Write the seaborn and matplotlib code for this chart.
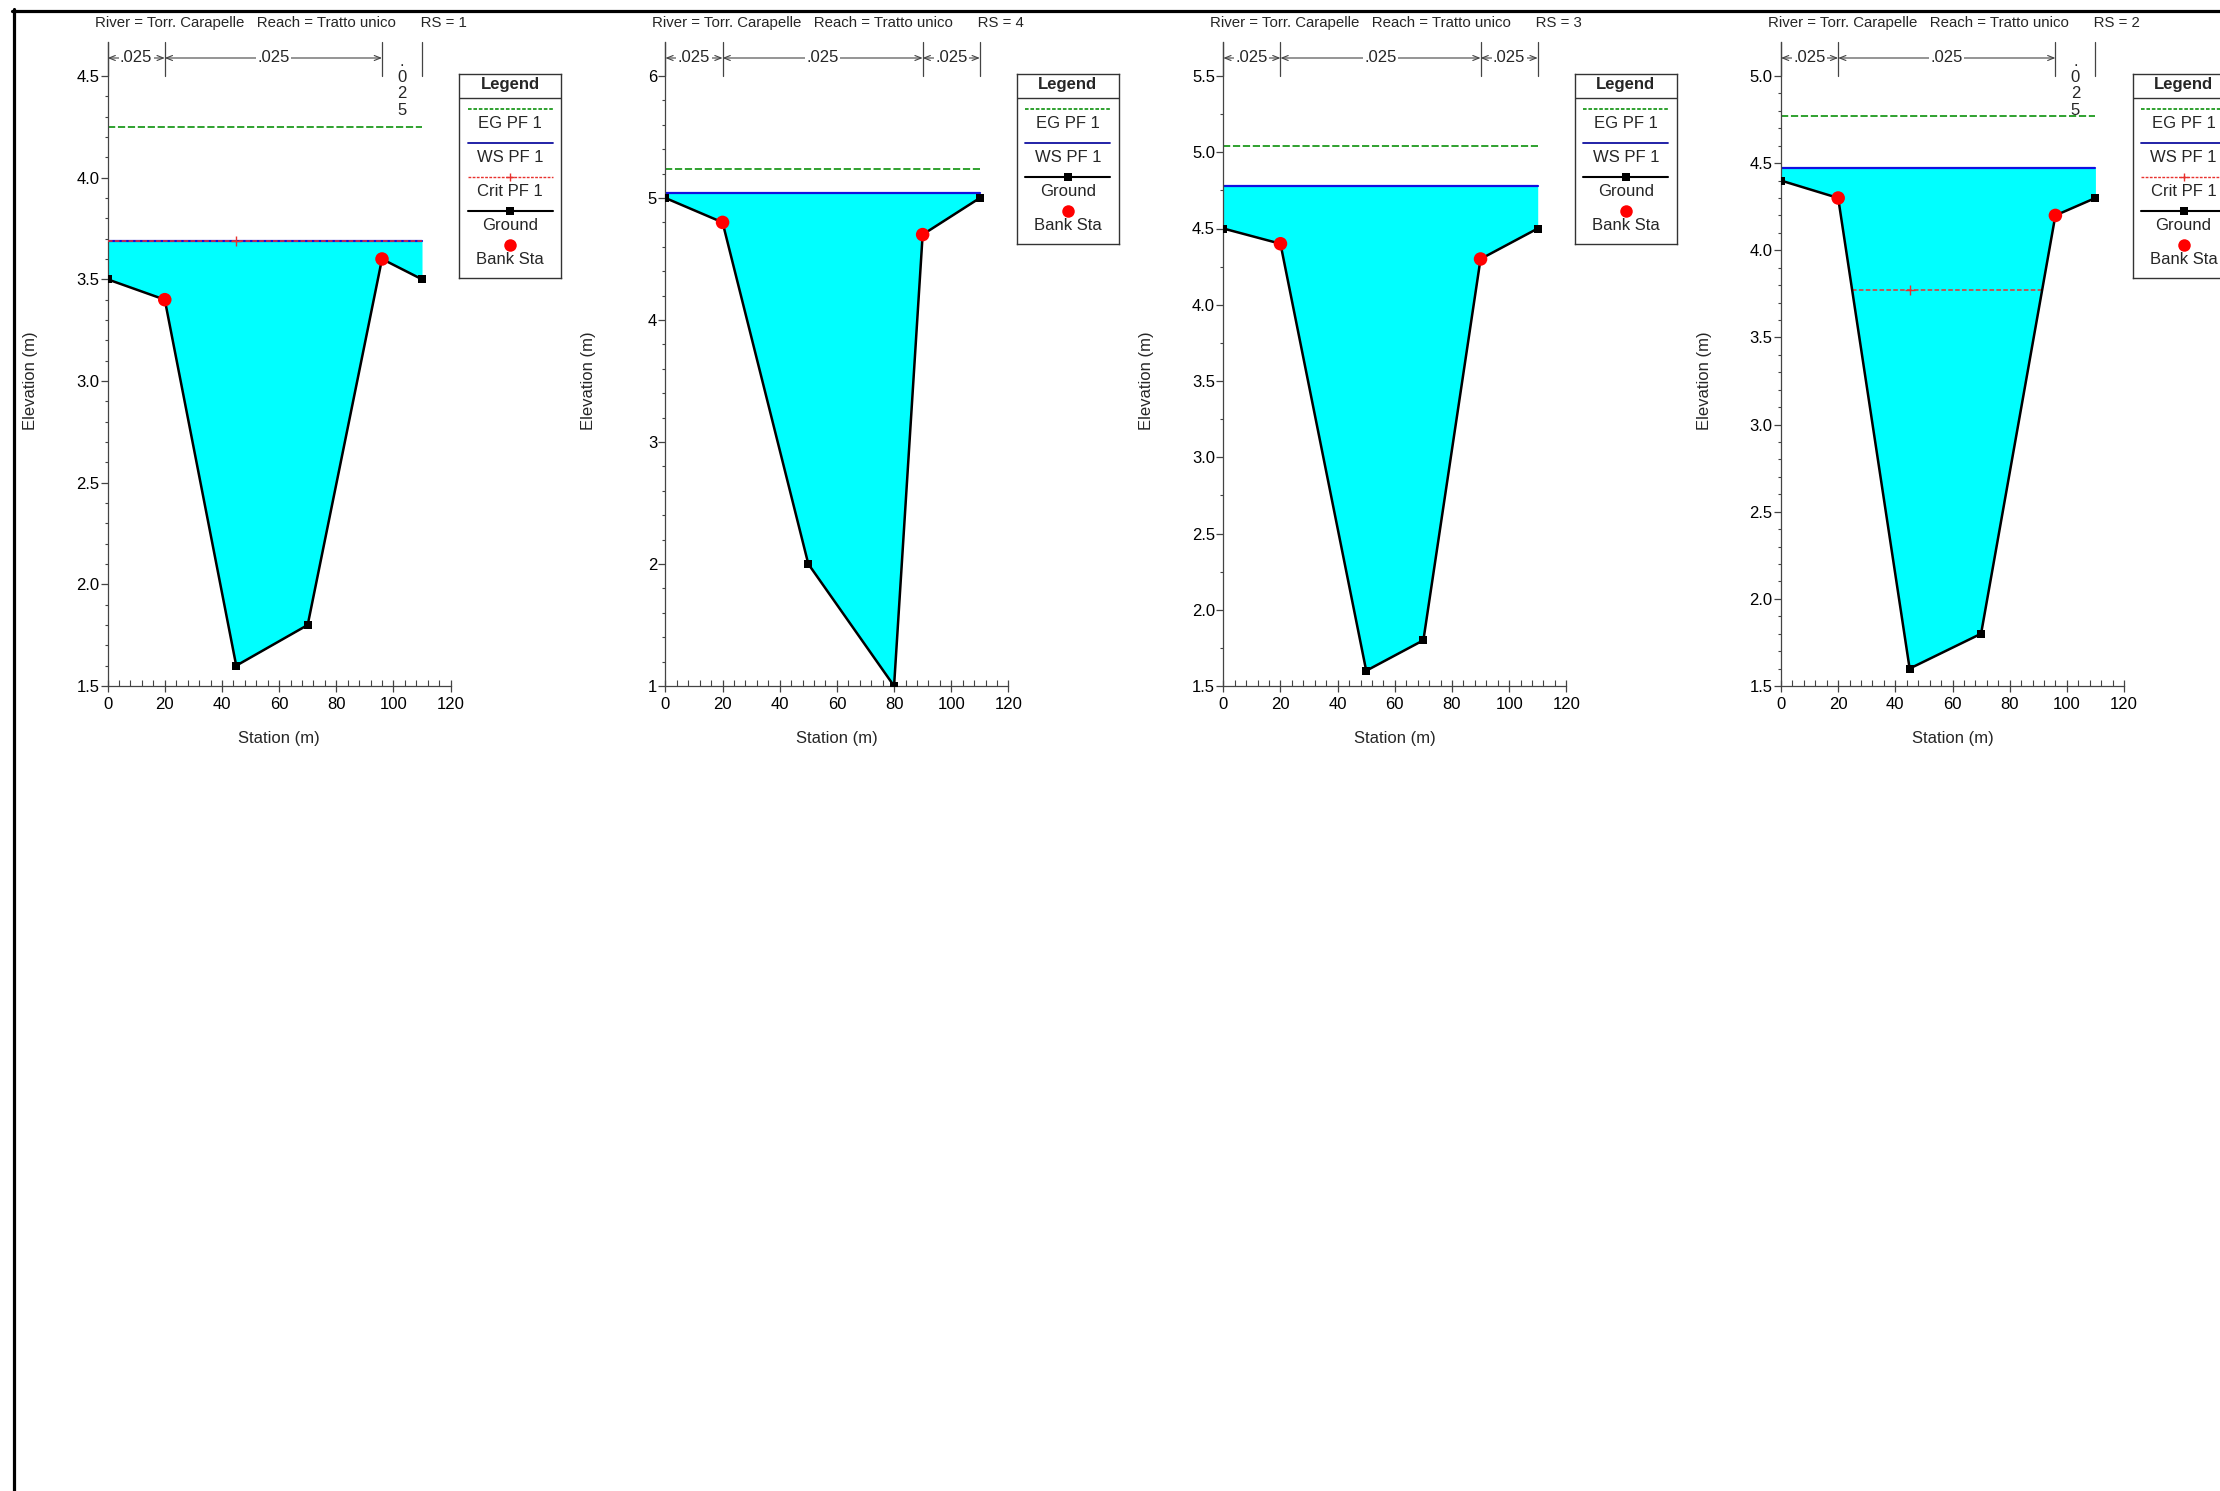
# Sezioni trasversali HEC-RAS - Torr. Carapelle, tratto unico
import numpy as np
import seaborn as sns
import matplotlib.pyplot as plt
from matplotlib.lines import Line2D

sns.set_style('ticks')
plt.rcParams['font.family'] = ['Liberation Sans', 'DejaVu Sans']

# Dati delle sezioni (ordine dei pannelli: RS = 1, 4, 3, 2)
rs_labels = ['1', '4', '3', '2']
stations = [
    [0, 20, 45, 70, 96, 110],
    [0, 20, 50, 80, 90, 110],
    [0, 20, 50, 70, 90, 110],
    [0, 20, 45, 70, 96, 110],
]
elevations = [
    [3.5, 3.4, 1.6, 1.8, 3.6, 3.5],
    [5.0, 4.8, 2.0, 1.0, 4.7, 5.0],
    [4.5, 4.4, 1.6, 1.8, 4.3, 4.5],
    [4.4, 4.3, 1.6, 1.8, 4.2, 4.3],
]
bank_left = [20, 20, 20, 20]
bank_right = [96, 90, 90, 96]
ws_pf1 = [3.69, 5.04, 4.78, 4.47]
eg_pf1 = [4.25, 5.24, 5.04, 4.77]
crit_pf1 = [3.69, None, None, 3.77]
n_values = [[0.025, 0.025, 0.025]] * 4

# Assi
y_ranges = [(1.5, 4.5), (1.0, 6.0), (1.5, 5.5), (1.5, 5.0)]
y_major = [0.5, 1.0, 0.5, 0.5]
y_minor = [0.1, 0.2, 0.25, 0.1]

# Impaginazione in pixel
W, H = 2220, 1491
ax_left_px = [107.6, 665.4, 1223.3, 1781.0]
AXW = 343
TOP, YMAX_PX, BOTTOM = 42, 76, 686
FS = 12

fig = plt.figure(figsize=(W / 100, H / 100), dpi=100)
fig.patch.set_facecolor('white')

# cornice nera in alto a sinistra
fig.add_artist(Line2D([13.5 / W, 13.5 / W], [0, 1 - 9 / H], color='black', lw=2.3))
fig.add_artist(Line2D([12 / W, 1], [1 - 10.5 / H, 1 - 10.5 / H], color='black', lw=2.3))


def wet_extent(st, el, level):
    # primo e ultimo punto in cui il livello incontra il terreno
    st = np.asarray(st, float)
    el = np.asarray(el, float)
    below = el < level
    i0 = int(np.argmax(below))
    i1 = len(el) - 1 - int(np.argmax(below[::-1]))
    xl = st[0] if i0 == 0 else np.interp(level, [el[i0], el[i0 - 1]], [st[i0], st[i0 - 1]])
    xr = st[-1] if i1 == len(el) - 1 else np.interp(level, [el[i1], el[i1 + 1]], [st[i1], st[i1 + 1]])
    return xl, xr


for i in range(4):
    l, w = ax_left_px[i], AXW
    st = np.array(stations[i], float)
    el = np.array(elevations[i], float)
    y0, y1 = y_ranges[i]
    ytop = y0 + (y1 - y0) * (BOTTOM - TOP) / (BOTTOM - YMAX_PX)

    def ypx(p):
        return y0 + (BOTTOM - p) / (BOTTOM - YMAX_PX) * (y1 - y0)

    ax = fig.add_axes([l / W, 1 - BOTTOM / H, w / W, (BOTTOM - TOP) / H])
    ax.set_facecolor('none')
    ax.set_xlim(0, 120)
    ax.set_ylim(y0, ytop)

    # acqua
    ws = ws_pf1[i]
    ax.fill_between(st, el, ws, where=el <= ws, interpolate=True,
                    color='#00ffff', lw=0, zorder=1)
    xl, xr = wet_extent(st, el, ws)
    ax.plot([xl, xr], [ws, ws], color='#1010e0', lw=1.6, zorder=2)

    # linea dell'energia
    ax.plot([st[0], st[-1]], [eg_pf1[i], eg_pf1[i]], color='#1f9a1f', lw=1.3,
            dashes=(4, 1.5), zorder=2)

    # altezza critica
    if crit_pf1[i] is not None:
        cl, cr = wet_extent(st, el, crit_pf1[i])
        ax.plot([cl, cr], [crit_pf1[i], crit_pf1[i]], color='#e8322e', lw=1.1,
                dashes=(3, 1.5), zorder=3)
        ax.plot([st[np.argmin(el)]], [crit_pf1[i]], marker='+', color='#e8322e',
                ms=7, mew=1, zorder=3)

    # terreno
    sns.lineplot(x=st, y=el, ax=ax, color='black', lw=1.8, sort=False,
                 estimator=None, marker='s', markersize=6, markeredgewidth=0,
                 zorder=4)
    bx = [bank_left[i], bank_right[i]]
    by = np.interp(bx, st, el)
    sns.scatterplot(x=bx, y=by, ax=ax, color='#ff0000', s=95, edgecolor='none',
                    zorder=5)

    # assi
    for s in ['top', 'right']:
        ax.spines[s].set_visible(False)
    for s in ['left', 'bottom']:
        ax.spines[s].set_color('#444444')
        ax.spines[s].set_linewidth(0.9)
    ax.set_xticks(np.arange(0, 121, 20))
    ax.set_xticks(np.arange(0, 121, 4), minor=True)
    ax.set_yticks(np.arange(y0, y1 + 1e-9, y_major[i]))
    ax.set_yticks(np.arange(y0, y1 + 1e-9, y_minor[i]), minor=True)
    ax.tick_params(axis='x', which='major', direction='inout', length=8, width=0.9,
                   pad=4, labelsize=FS, colors='#444444', labelcolor='black')
    ax.tick_params(axis='x', which='minor', direction='in', length=4, width=0.8,
                   colors='#444444')
    ax.tick_params(axis='y', which='major', direction='out', length=5, width=0.9,
                   pad=1, labelsize=FS, colors='#444444', labelcolor='black')
    ax.tick_params(axis='y', which='minor', direction='out', length=2.5, width=0.8,
                   colors='#444444')
    ax.set_xlabel('Station (m)', fontsize=FS, va='center')
    ax.xaxis.set_label_coords(0.5, -(738 - BOTTOM) / (BOTTOM - TOP))
    ax.set_ylabel('Elevation (m)', fontsize=FS, va='center')
    ax.yaxis.set_label_coords(-77 / w, (BOTTOM - YMAX_PX) / (BOTTOM - TOP) / 2)

    # valori di Manning sopra la sezione
    bounds = [st[0], bank_left[i], bank_right[i], st[-1]]
    for b in bounds:
        ax.plot([b, b], [y1, ytop], color='#444444', lw=0.9, clip_on=False)
    yb = ypx(58)
    for k in range(3):
        b0, b1 = bounds[k], bounds[k + 1]
        lab = f"{n_values[i][k]:.3f}".lstrip('0')
        if (b1 - b0) / 120 * w > 45:
            ax.annotate('', xy=(b0, yb), xytext=(b1, yb), annotation_clip=False,
                        arrowprops=dict(arrowstyle='<->,head_length=0.45,head_width=0.18',
                                        lw=0.8, color='#444444', shrinkA=0, shrinkB=0))
            ax.text((b0 + b1) / 2, yb, lab, ha='center', va='center', fontsize=FS,
                    bbox=dict(fc='white', ec='none', pad=1.0), zorder=6, clip_on=False)
        else:
            ax.text((b0 + b1) / 2, ypx(54), '\n'.join(lab), ha='center', va='top',
                    fontsize=FS, linespacing=1.1, zorder=6, clip_on=False)

    # titolo
    fig.text((l - 13) / W, 1 - 23 / H,
             f"River = Torr. Carapelle   Reach = Tratto unico      RS = {rs_labels[i]}",
             fontsize=10.8, ha='left', va='center')

    # legenda
    entries = ['EG PF 1', 'WS PF 1']
    if crit_pf1[i] is not None:
        entries.append('Crit PF 1')
    entries += ['Ground', 'Bank Sta']
    bw, bh = 102, 34 * (len(entries) + 1)
    lg = fig.add_axes([(l + w + 8.5) / W, 1 - (YMAX_PX - 2 + bh) / H, bw / W, bh / H])
    lg.set_xlim(0, bw)
    lg.set_ylim(bh, 0)
    lg.set_xticks([])
    lg.set_yticks([])
    for s in lg.spines.values():
        s.set_color('#333333')
        s.set_linewidth(1.0)
    lg.text(bw / 2, 11, 'Legend', ha='center', va='center', fontsize=FS,
            fontweight='bold')
    lg.axhline(24, color='#333333', lw=1.0)
    for k, name in enumerate(entries):
        ys, yt = 35 + 34 * k, 50 + 34 * k
        xs = [8.5, bw - 8.5]
        if name == 'EG PF 1':
            lg.plot(xs, [ys, ys], color='#1f9a1f', lw=1.3, dashes=(2, 1))
        elif name == 'WS PF 1':
            lg.plot(xs, [ys, ys], color='#1010a0', lw=1.3)
        elif name == 'Crit PF 1':
            lg.plot(xs, [ys, ys], color='#e8322e', lw=1.0, dashes=(2, 1))
            lg.plot([bw / 2], [ys], marker='+', color='#e8322e', ms=6, mew=1)
        elif name == 'Ground':
            lg.plot(xs, [ys, ys], color='black', lw=1.5)
            lg.plot([bw / 2], [ys], marker='s', color='black', ms=5.5, mew=0)
        else:
            lg.plot([bw / 2], [ys], marker='o', color='#ff0000', ms=9, mew=0)
        lg.text(bw / 2, yt, name, ha='center', va='center', fontsize=FS)

fig.savefig('out.png', dpi=100, facecolor='white')
